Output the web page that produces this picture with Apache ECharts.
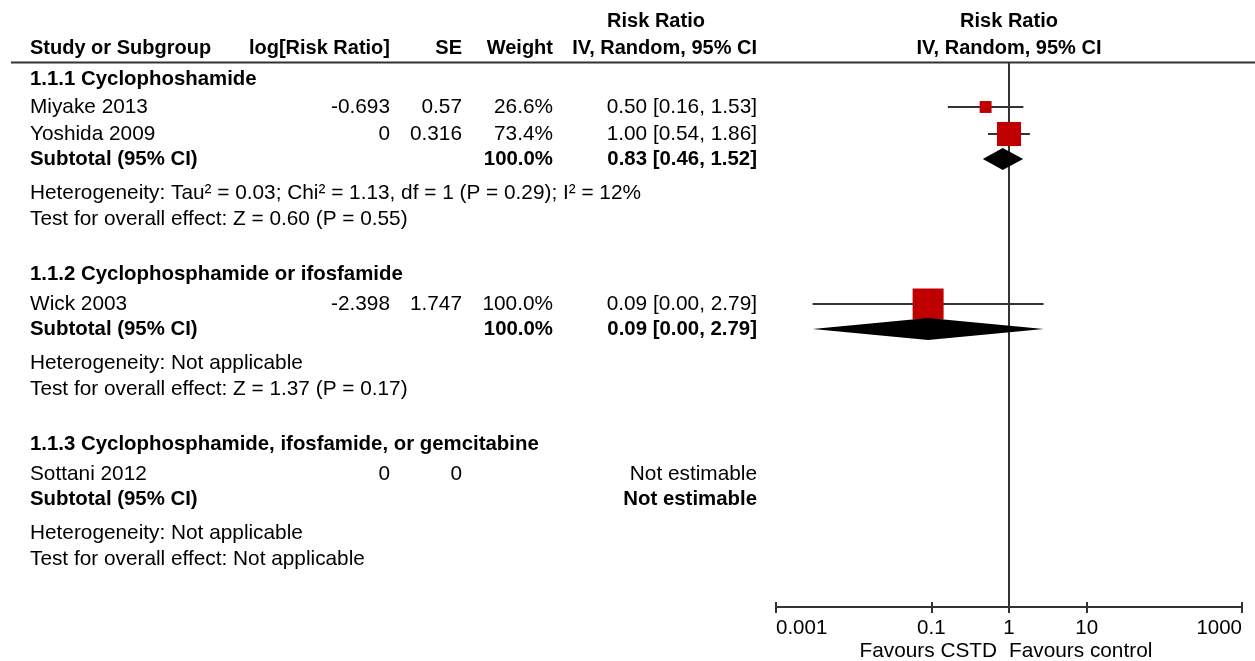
<!DOCTYPE html>
<html><head><meta charset="utf-8">
<script src="https://cdn.jsdelivr.net/npm/echarts@6/dist/echarts.min.js"></script>
<style>html,body{margin:0;padding:0;background:#fff}#c{width:1255px;height:661px}</style>
</head><body><div id="c"></div>
<script>
// ---------------- DATA ----------------
const groupNames = ['1.1.1 Cyclophoshamide', '1.1.2 Cyclophosphamide or ifosfamide', '1.1.3 Cyclophosphamide, ifosfamide, or gemcitabine'];
const studyNames = ['Miyake 2013', 'Yoshida 2009', 'Wick 2003', 'Sottani 2012'];
const studyGroup = [0, 0, 1, 2];
const studyLogRRText = ['-0.693', '0', '-2.398', '0'];
const studySEText = ['0.57', '0.316', '1.747', '0'];
const studyWeightText = ['26.6%', '73.4%', '100.0%', ''];
const studyWeight = [26.6, 73.4, 100, null];
const studyRR = [0.50, 1.00, 0.0909, null];
const studyLo = [0.163, 0.538, 0.00296, null];
const studyHi = [1.529, 1.858, 2.79, null];
const studyCIText = ['0.50 [0.16, 1.53]', '1.00 [0.54, 1.86]', '0.09 [0.00, 2.79]', 'Not estimable'];

const subWeightText = ['100.0%', '100.0%', ''];
const subRR = [0.83, 0.0909, null];
const subLo = [0.46, 0.00296, null];
const subHi = [1.52, 2.79, null];
const subCIText = ['0.83 [0.46, 1.52]', '0.09 [0.00, 2.79]', 'Not estimable'];
const hetText = ['Heterogeneity: Tau² = 0.03; Chi² = 1.13, df = 1 (P = 0.29); I² = 12%', 'Heterogeneity: Not applicable', 'Heterogeneity: Not applicable'];
const effectText = ['Test for overall effect: Z = 0.60 (P = 0.55)', 'Test for overall effect: Z = 1.37 (P = 0.17)', 'Test for overall effect: Not applicable'];

const tickValues = [0.001, 0.1, 1, 10, 1000];
const tickLabels = ['0.001', '0.1', '1', '10', '1000'];
const nullValue = [1];
const favoursLeft = 'Favours CSTD';
const favoursRight = 'Favours control';
const colHeaders = ['Study or Subgroup', 'log[Risk Ratio]', 'SE', 'Weight', 'IV, Random, 95% CI'];
const effectHeader = 'Risk Ratio';

// ---------------- LAYOUT ----------------
const FONT = '"Liberation Sans", Arial, sans-serif';
const REG = '20.8px ' + FONT, BOLD = 'bold 20.4px ' + FONT, HEAD = 'bold 20px ' + FONT;
const COL = { name: 30, logrr: 390, se: 462, weight: 553, ci: 757 };
const GAP = { first: 79, headerToStudy: 28, studyToStudy: 27, studyToSub: 25, subToHet: 34, hetToTest: 26, testToHeader: 55 };

const rows = [];
let y = GAP.first;
groupNames.forEach((g, gi) => {
  rows.push({ type: 'group', gi, y });
  const idx = studyGroup.map((s, i) => s === gi ? i : -1).filter(i => i >= 0);
  idx.forEach((si, k) => {
    y += (k === 0 ? GAP.headerToStudy + (gi > 0 ? 2 : 0) : GAP.studyToStudy);
    rows.push({ type: 'study', si, y });
  });
  y += GAP.studyToSub; rows.push({ type: 'sub', gi, y });
  y += GAP.subToHet; rows.push({ type: 'het', gi, y });
  y += GAP.hetToTest; rows.push({ type: 'test', gi, y });
  y += GAP.testToHeader;
});

const graphics = [];
function txt(text, x, yy, align, font) {
  graphics.push({ type: 'text', x: x, y: yy, silent: true,
    style: { text: text, x: 0, y: 0, textAlign: align, textVerticalAlign: 'middle', font: font, fill: '#000' } });
}
txt(effectHeader, 656, 21, 'center', HEAD);
txt(colHeaders[0], COL.name, 48, 'left', HEAD);
txt(colHeaders[1], COL.logrr, 48, 'right', HEAD);
txt(colHeaders[2], COL.se, 48, 'right', HEAD);
txt(colHeaders[3], COL.weight, 48, 'right', HEAD);
txt(colHeaders[4], COL.ci, 48, 'right', HEAD);
txt(effectHeader, 1009, 21, 'center', HEAD);
txt(colHeaders[4], 1009, 48, 'center', HEAD);
graphics.push({ type: 'line', silent: true, shape: { x1: 11, y1: 62.5, x2: 1255, y2: 62.5 }, style: { stroke: '#333', lineWidth: 2 } });

const studyPoints = [], subPoints = [];
rows.forEach(r => {
  if (r.type === 'group') txt(groupNames[r.gi], COL.name, r.y, 'left', BOLD);
  else if (r.type === 'study') {
    const i = r.si;
    txt(studyNames[i], COL.name, r.y, 'left', REG);
    txt(studyLogRRText[i], COL.logrr, r.y, 'right', REG);
    txt(studySEText[i], COL.se, r.y, 'right', REG);
    if (studyWeightText[i]) txt(studyWeightText[i], COL.weight, r.y, 'right', REG);
    txt(studyCIText[i], COL.ci, r.y, 'right', REG);
    if (studyRR[i] != null) studyPoints.push([studyRR[i], studyLo[i], studyHi[i], r.y, studyWeight[i]]);
  } else if (r.type === 'sub') {
    const g = r.gi;
    txt('Subtotal (95% CI)', COL.name, r.y, 'left', BOLD);
    if (subWeightText[g]) txt(subWeightText[g], COL.weight, r.y, 'right', BOLD);
    txt(subCIText[g], COL.ci, r.y, 'right', BOLD);
    if (subRR[g] != null) subPoints.push([subRR[g], subLo[g], subHi[g], r.y]);
  } else if (r.type === 'het') txt(hetText[r.gi], COL.name, r.y, 'left', REG);
  else if (r.type === 'test') txt(effectText[r.gi], COL.name, r.y, 'left', REG);
});
txt(favoursLeft, 997, 651, 'right', REG);
txt(favoursRight, 1009, 651, 'left', REG);

const chart = echarts.init(document.getElementById('c'));
const axisCommon = { type: 'log', logBase: 10, min: 0.001, max: 1000, gridIndex: 0, position: 'bottom', splitLine: { show: false } };
chart.setOption({
  animation: false,
  grid: { left: 776, right: 13, top: 62, bottom: 54, containLabel: false },
  xAxis: [
    Object.assign({}, axisCommon, {
      axisLine: { show: true, lineStyle: { color: '#333', width: 2 } },
      axisTick: { show: true, inside: false, length: 6, customValues: tickValues, lineStyle: { color: '#333', width: 2 } },
      axisLabel: { show: true, customValues: tickValues, margin: 11, color: '#000', fontSize: 20.5, fontFamily: FONT,
        alignMinLabel: 'left', alignMaxLabel: 'right',
        formatter: v => { const k = tickValues.findIndex(t => Math.abs(Math.log10(t) - Math.log10(v)) < 1e-6); return k >= 0 ? tickLabels[k] : ''; } }
    }),
    Object.assign({}, axisCommon, {
      axisLine: { show: false },
      axisTick: { show: true, inside: true, length: 5, customValues: tickValues, lineStyle: { color: '#333', width: 2 } },
      axisLabel: { show: false }
    })
  ],
  yAxis: { type: 'value', min: 62, max: 607, inverse: true, show: false },
  graphic: { elements: graphics },
  series: [
    { type: 'custom', z: 1, clip: false, silent: true, data: nullValue.map(v => [v]),
      encode: { x: 0 },
      renderItem: (params, api) => {
        const cs = params.coordSys;
        const x = api.coord([api.value(0), 62])[0];
        return { type: 'line', shape: { x1: x, y1: cs.y, x2: x, y2: cs.y + cs.height }, style: { stroke: '#333', lineWidth: 2 } };
      } },
    { type: 'custom', z: 3, clip: false, data: studyPoints,
      encode: { x: [0, 1, 2], y: 3 },
      renderItem: (params, api) => {
        const yy = api.value(3);
        const c = api.coord([api.value(0), yy]);
        const l = api.coord([api.value(1), yy]);
        const h = api.coord([api.value(2), yy]);
        const s = 5 + 0.26 * api.value(4);
        return { type: 'group', children: [
          { type: 'line', z2: 1, shape: { x1: l[0], y1: l[1], x2: h[0], y2: h[1] }, style: { stroke: '#333', lineWidth: 2 } },
          { type: 'rect', z2: 2, shape: { x: c[0] - s / 2, y: c[1] - s / 2, width: s, height: s }, style: { fill: '#c00000' } }
        ] };
      } },
    { type: 'custom', z: 4, clip: false, data: subPoints,
      encode: { x: [0, 1, 2], y: 3 },
      renderItem: (params, api) => {
        const yy = api.value(3);
        const c = api.coord([api.value(0), yy]);
        const l = api.coord([api.value(1), yy]);
        const h = api.coord([api.value(2), yy]);
        const hh = 11;
        return { type: 'polygon', shape: { points: [l, [c[0], c[1] - hh], h, [c[0], c[1] + hh]] }, style: { fill: '#000' } };
      } }
  ]
});
</script></body></html>
